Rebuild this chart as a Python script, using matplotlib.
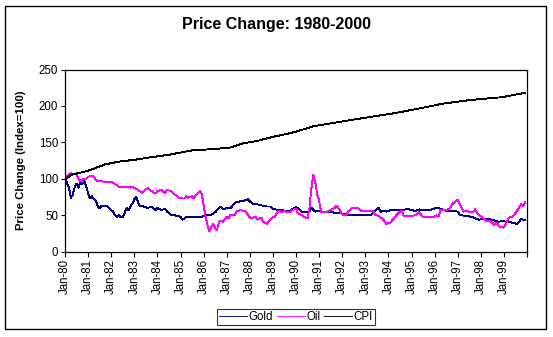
import matplotlib
matplotlib.use('Agg')
import matplotlib.pyplot as plt
from matplotlib.patches import Rectangle

plt.rcParams['font.family'] = ['Liberation Sans', 'DejaVu Sans']

# months since Jan-80 and index values (Jan-80 = 100)
gold_month = [0, 2, 3, 4, 5, 6, 7, 8, 9, 10, 11, 12, 13, 14, 15, 16, 17, 18, 19, 21,
              22, 24, 25, 26, 27, 28, 29, 30, 31, 32, 33, 34, 35, 36, 37, 38, 39, 40, 41, 43,
              45, 47, 48, 50, 52, 53, 55, 57, 60, 61, 62, 63, 65, 67, 69, 71, 73, 75, 76, 78,
              80, 81, 82, 84, 86, 88, 89, 91, 93, 95, 96, 98, 100, 101, 103, 105, 107, 108, 111, 113,
              114, 117, 119, 120, 121, 123, 125, 127, 128, 130, 132, 134, 135, 137, 139, 141, 142, 145, 147, 149,
              152, 153, 156, 159, 160, 163, 164, 166, 167, 169, 172, 174, 177, 179, 180, 182, 184, 186, 189, 193,
              195, 198, 201, 204, 205, 206, 208, 211, 213, 215, 218, 220, 223, 225, 227, 230, 232, 235, 237, 238,
              239]
gold_value = [100, 89, 74, 78, 88, 93, 88, 95, 93, 97, 90, 80, 73, 76, 72, 70, 62, 60, 63, 63,
              62, 57, 55, 50, 48, 50, 47, 48, 53, 60, 57, 62, 66, 72, 75, 67, 62, 63, 62, 60,
              62, 57, 60, 57, 59, 55, 51, 50, 48, 44, 45, 48, 47, 48, 47, 48, 50, 50, 51, 54,
              60, 62, 58, 60, 60, 66, 68, 69, 70, 72, 69, 65, 65, 64, 63, 62, 62, 59, 57, 57,
              56, 56, 60, 61, 60, 55, 54, 55, 60, 55, 56, 54, 55, 54, 54, 53, 53, 52, 50, 50,
              51, 50, 50, 50, 54, 60, 55, 56, 55, 57, 57, 57, 58, 58, 57, 56, 58, 57, 57, 60,
              59, 56, 56, 55, 51, 50, 49, 48, 46, 44, 45, 45, 43, 41, 42, 41, 40, 38, 45, 44,
              43]

oil_month = [0, 2, 3, 4, 6, 7, 8, 9, 11, 12, 14, 15, 16, 17, 21, 24, 26, 28, 31, 34,
             35, 37, 39, 40, 41, 42, 43, 45, 47, 48, 50, 52, 53, 55, 57, 58, 59, 61, 62, 63,
             64, 66, 67, 68, 70, 71, 72, 73, 74, 75, 76, 77, 78, 79, 80, 81, 82, 84, 85, 86,
             88, 89, 91, 93, 94, 96, 97, 99, 100, 102, 103, 105, 106, 108, 109, 110, 111, 113, 114, 115,
             117, 118, 120, 121, 123, 125, 126, 127, 128, 129, 130, 131, 132, 133, 134, 136, 138, 140, 141, 142,
             144, 146, 147, 149, 152, 154, 157, 160, 161, 163, 165, 167, 169, 171, 172, 174, 175, 176, 178, 180,
             182, 184, 186, 188, 191, 193, 194, 195, 198, 200, 201, 202, 204, 205, 206, 207, 208, 210, 212, 213,
             215, 217, 219, 221, 223, 224, 226, 228, 229, 231, 232, 234, 236, 237, 238, 239]
oil_value = [100, 106, 108, 106, 106, 100, 97, 99, 100, 103, 104, 103, 99, 97, 96, 96, 93, 89, 89, 88,
             89, 86, 83, 80, 83, 86, 87, 83, 80, 83, 85, 80, 85, 83, 78, 77, 74, 73, 73, 76,
             74, 76, 73, 78, 83, 80, 64, 48, 37, 28, 34, 38, 32, 30, 41, 42, 41, 48, 46, 51,
             50, 55, 57, 56, 55, 47, 46, 48, 44, 47, 41, 38, 42, 47, 48, 53, 56, 54, 56, 54,
             55, 57, 59, 53, 50, 47, 46, 60, 87, 106, 96, 78, 70, 55, 55, 55, 57, 60, 63, 60,
             51, 50, 55, 60, 60, 56, 56, 56, 51, 49, 45, 38, 40, 46, 50, 55, 56, 49, 49, 49,
             50, 54, 47, 48, 47, 50, 48, 57, 57, 60, 65, 67, 71, 66, 60, 55, 56, 55, 54, 58,
             50, 47, 42, 42, 37, 40, 34, 33, 38, 48, 47, 53, 61, 65, 63, 68]

cpi_month = [0, 4, 12, 21, 29, 36, 43, 54, 66, 78, 86, 93, 100, 107, 116, 119, 129, 140, 154, 171,
             185, 196, 210, 227, 239]
cpi_value = [100, 106, 111, 120, 124, 126, 129, 133, 139, 141, 143, 149, 152, 157, 162, 164, 172, 177, 183, 190,
             197, 203, 208, 212, 218]

year_labels = ['Jan-%02d' % (y % 100) for y in range(1980, 2000)]

fig = plt.figure(figsize=(5.53, 3.37), dpi=100)
ax = fig.add_axes([65 / 553, 1 - 251.7 / 337, 462 / 553, 182.2 / 337])

ax.plot(gold_month, gold_value, color='#000080', lw=0.65, label='Gold', antialiased=False)
ax.plot(oil_month, oil_value, color='#FF00FF', lw=0.65, label='Oil', antialiased=False)
ax.plot(cpi_month, cpi_value, color='black', lw=0.65, label='CPI', antialiased=False)

ax.set_xlim(0, 240)
ax.set_ylim(0, 250)
ax.set_yticks(range(0, 251, 50))
ax.set_xticks(list(range(0, 241, 12)))
ax.set_xticklabels(year_labels + [''], rotation=90, fontsize=8.3)
ax.tick_params(axis='y', labelsize=8.3, length=3, width=0.8, direction='out', pad=2)
ax.tick_params(axis='x', length=3.5, width=0.8, direction='out', pad=2)
for s in ax.spines.values():
    s.set_linewidth(0.9)

ax.set_ylabel('Price Change (Index=100)', fontsize=8.2, fontweight='bold')
ax.yaxis.set_label_coords(-0.085, 0.5)

fig.text(0.5, 1 - 25 / 337, 'Price Change: 1980-2000', ha='center', va='center',
         fontsize=11.5, fontweight='bold')

leg = fig.legend(loc='center', bbox_to_anchor=(296 / 553, 1 - 317 / 337), ncol=3,
                 fontsize=8.3, frameon=True, fancybox=False, handlelength=2.4,
                 handletextpad=0.15, columnspacing=0.35, borderpad=0.2, borderaxespad=0)
leg.get_frame().set_edgecolor('black')
leg.get_frame().set_linewidth(0.8)

# outer chart border
fig.patches.append(Rectangle((5 / 553, 1 - 329 / 337), 541 / 553, 323 / 337,
                             transform=fig.transFigure, fill=False, edgecolor='black', lw=1.0))

plt.savefig('out.png', dpi=100)
